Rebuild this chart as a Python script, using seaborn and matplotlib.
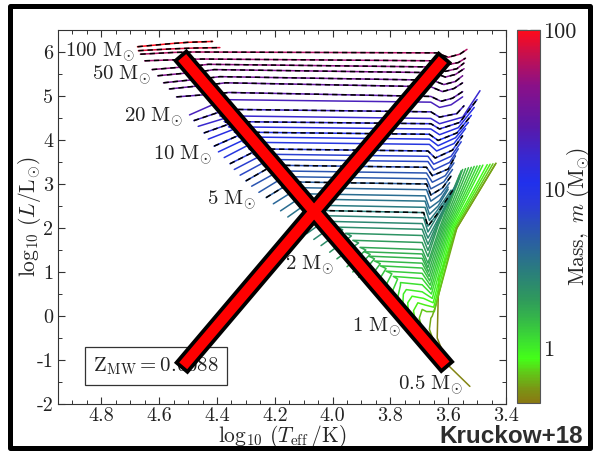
import matplotlib
matplotlib.use("Agg")
import numpy as np
import pandas as pd
import matplotlib.pyplot as plt
import seaborn as sns
from matplotlib.colors import LinearSegmentedColormap, LogNorm
from matplotlib.cm import ScalarMappable
from matplotlib.ticker import MultipleLocator, FuncFormatter, LogLocator, NullFormatter, FixedLocator
from matplotlib.lines import Line2D
from matplotlib.patches import Rectangle

# ---------------------------------------------------------------- data
# initial masses of the evolutionary tracks (Msun)
masses = [100, 80, 60, 52, 46, 40, 34, 29, 25, 20, 18, 16, 14, 12.5, 11, 10, 9, 8,
          7.3, 6.6, 6.0, 5.5, 5.0, 4.6, 4.2, 3.8, 3.5, 3.2, 3.0, 2.8, 2.6, 2.4, 2.2,
          2.0, 1.8, 1.7, 1.6, 1.5, 1.4, 1.3, 1.2, 1.1, 1.0, 0.9, 0.8, 0.7, 0.6, 0.5]

# zero-age main sequence
zams_logT = [4.675, 4.672, 4.665, 4.65, 4.625, 4.605, 4.585, 4.565, 4.54, 4.495, 4.48, 4.465,
             4.445, 4.43, 4.41, 4.395, 4.375, 4.355, 4.34, 4.32, 4.30, 4.28, 4.255, 4.23,
             4.205, 4.18, 4.155, 4.13, 4.11, 4.09, 4.065, 4.04, 4.01, 3.985, 3.95, 3.93,
             3.91, 3.885, 3.86, 3.835, 3.81, 3.785, 3.76, 3.735, 3.705, 3.675, 3.63, 3.525]
zams_logL = [6.12, 6.03, 5.95, 5.80, 5.60, 5.46, 5.30, 5.16, 4.98, 4.57, 4.44, 4.31,
             4.16, 4.02, 3.86, 3.73, 3.60, 3.46, 3.33, 3.20, 3.07, 2.95, 2.81, 2.69,
             2.55, 2.39, 2.25, 2.10, 1.99, 1.87, 1.74, 1.60, 1.45, 1.30, 1.12, 1.00,
             0.88, 0.74, 0.60, 0.45, 0.30, 0.13, -0.05, -0.25, -0.45, -0.68, -0.95, -1.60]

# terminal-age main sequence
tams_logT = [4.56, 4.56, 4.55, 4.51, 4.48, 4.46, 4.44, 4.42, 4.40, 4.395, 4.385, 4.37,
             4.355, 4.34, 4.32, 4.305, 4.29, 4.27, 4.255, 4.235, 4.22, 4.20, 4.18, 4.155,
             4.13, 4.105, 4.08, 4.055, 4.035, 4.015, 3.99, 3.965, 3.935, 3.91, 3.885, 3.87,
             3.855, 3.835, 3.815, 3.795, 3.775, 3.765, 3.755, 3.74, 3.72, 3.70, 3.665, 3.60]
tams_logL = [6.19, 6.07, 5.99, 5.83, 5.68, 5.55, 5.40, 5.26, 5.05, 4.86, 4.65, 4.50,
             4.37, 4.25, 4.12, 4.01, 3.89, 3.74, 3.62, 3.50, 3.37, 3.24, 3.11, 2.99,
             2.86, 2.72, 2.60, 2.46, 2.34, 2.22, 2.09, 1.96, 1.82, 1.66, 1.50, 1.40,
             1.30, 1.19, 1.08, 0.96, 0.84, 0.70, 0.50, 0.30, 0.12, -0.05, -0.30, -1.12]

# main-sequence hook
hook_logT = [4.50, 4.48, 4.48, 4.45, 4.43, 4.41, 4.39, 4.37, 4.36, 4.41, 4.40, 4.39,
             4.375, 4.36, 4.34, 4.325, 4.31, 4.29, 4.275, 4.255, 4.24, 4.22, 4.20, 4.175,
             4.15, 4.125, 4.10, 4.075, 4.055, 4.035, 4.01, 3.985, 3.955, 3.93, 3.905, 3.89,
             3.875, 3.855, 3.835, 3.815, 3.79, 3.765, 3.745, 3.725, 3.705, 3.69, 3.66, 3.638]
hook_logL = [6.22, 6.09, 6.00, 5.84, 5.72, 5.60, 5.44, 5.30, 5.08, 4.92, 4.70, 4.55,
             4.42, 4.30, 4.18, 4.07, 3.95, 3.80, 3.68, 3.56, 3.43, 3.30, 3.17, 3.05,
             2.92, 2.78, 2.66, 2.52, 2.40, 2.28, 2.15, 2.02, 1.88, 1.72, 1.56, 1.46,
             1.36, 1.25, 1.14, 1.02, 0.90, 0.76, 0.60, 0.45, 0.30, 0.15, -0.05, -0.50]

# end of the Hertzsprung gap
gap_logT = [4.415, 4.39, 3.64, 3.65, 3.65, 3.65, 3.655, 3.66, 3.66, 3.66, 3.66, 3.66,
            3.66, 3.66, 3.665, 3.665, 3.665, 3.67, 3.67, 3.67, 3.675, 3.675, 3.675, 3.675,
            3.675, 3.68, 3.68, 3.68, 3.685, 3.685, 3.69, 3.69, 3.69, 3.69, 3.69, 3.69,
            3.69, 3.69, 3.69, 3.69, 3.69, 3.69, 3.69, 3.685, 3.68, 3.675, 3.655, 3.635]
gap_logL = [6.24, 6.10, 5.98, 5.80, 5.66, 5.53, 5.36, 5.21, 4.99, 4.86, 4.64, 4.49,
            4.37, 4.25, 4.13, 4.02, 3.90, 3.75, 3.63, 3.51, 3.38, 3.25, 3.12, 3.00,
            2.87, 2.73, 2.61, 2.47, 2.35, 2.23, 2.10, 1.97, 1.83, 1.67, 1.51, 1.41,
            1.31, 1.20, 1.09, 0.97, 0.85, 0.71, 0.55, 0.40, 0.25, 0.10, 0.00, 0.30]

# base of the giant branch
base_logT = [4.415, 4.39, 3.60, 3.61, 3.61, 3.61, 3.615, 3.62, 3.625, 3.63, 3.63, 3.63,
             3.63, 3.63, 3.635, 3.635, 3.64, 3.645, 3.65, 3.65, 3.655, 3.655, 3.66, 3.66,
             3.66, 3.665, 3.665, 3.665, 3.67, 3.67, 3.67, 3.67, 3.67, 3.67, 3.67, 3.67,
             3.668, 3.666, 3.664, 3.662, 3.66, 3.658, 3.655, 3.652, 3.65, 3.648, 3.645, 3.632]
base_logL = [6.24, 6.10, 5.88, 5.70, 5.56, 5.43, 5.26, 5.10, 4.88, 4.74, 4.52, 4.37,
             4.25, 4.12, 3.99, 3.87, 3.75, 3.59, 3.45, 3.32, 3.19, 3.04, 2.89, 2.75,
             2.61, 2.45, 2.31, 2.17, 2.04, 1.91, 1.77, 1.63, 1.49, 1.35, 1.20, 1.10,
             1.00, 0.90, 0.80, 0.70, 0.60, 0.50, 0.40, 0.30, 0.20, 0.10, 0.20, 0.85]

# middle of the giant branch
mid_logT = [4.415, 4.39, 3.56, 3.565, 3.57, 3.575, 3.575, 3.58, 3.585, 3.59, 3.57, 3.55,
            3.56, 3.565, 3.57, 3.575, 3.58, 3.585, 3.59, 3.595, 3.60, 3.61, 3.615, 3.62,
            3.625, 3.63, 3.635, 3.64, 3.64, 3.64, 3.635, 3.635, 3.635, 3.635, 3.63, 3.625,
            3.62, 3.615, 3.61, 3.605, 3.60, 3.595, 3.59, 3.585, 3.58, 3.575, 3.57, 3.57]
mid_logL = [6.24, 6.10, 5.95, 5.76, 5.62, 5.49, 5.33, 5.17, 4.95, 4.80, 4.60, 4.52,
            4.40, 4.28, 4.16, 4.05, 3.92, 3.77, 3.63, 3.49, 3.34, 3.19, 3.05, 2.91,
            2.77, 2.62, 2.50, 2.38, 2.30, 2.25, 2.20, 2.15, 2.10, 2.05, 2.00, 2.00,
            2.00, 2.00, 2.00, 2.00, 2.00, 2.00, 2.00, 2.00, 2.00, 2.00, 2.00, 2.00]

# end of the track
tip_logT = [4.415, 4.39, 3.535, 3.54, 3.545, 3.545, 3.55, 3.55, 3.55, 3.55, 3.545, 3.49,
            3.50, 3.51, 3.52, 3.53, 3.54, 3.55, 3.555, 3.565, 3.575, 3.58, 3.585, 3.59,
            3.595, 3.60, 3.60, 3.59, 3.58, 3.575, 3.57, 3.565, 3.56, 3.56, 3.555, 3.55,
            3.54, 3.53, 3.52, 3.51, 3.50, 3.49, 3.48, 3.465, 3.455, 3.445, 3.435, 3.435]
tip_logL = [6.24, 6.10, 6.06, 5.86, 5.75, 5.62, 5.46, 5.30, 5.10, 4.98, 4.78, 5.12,
            4.92, 4.74, 4.56, 4.40, 4.26, 4.10, 3.96, 3.80, 3.64, 3.48, 3.33, 3.18,
            3.03, 2.93, 2.88, 2.86, 2.90, 2.95, 3.00, 3.08, 3.15, 3.22, 3.30, 3.33,
            3.35, 3.37, 3.38, 3.40, 3.41, 3.42, 3.43, 3.44, 3.45, 3.46, 3.47, 3.47]

# tracks over-plotted with a dashed black line
dashed_masses = [100, 80, 60, 52, 46, 40, 34, 29, 25, 18, 14, 11, 8, 6.0, 4.6, 3.0]

# mass annotations next to the ZAMS
label_text = ["100", "50", "20", "10", "5", "2", "1", "0.5"]
label_logT = [4.685, 4.626, 4.516, 4.415, 4.264, 3.995, 3.764, 3.547]
label_logL = [6.00, 5.48, 4.52, 3.66, 2.64, 1.16, -0.25, -1.57]

metallicity = "0.0088"

# colour scale of the initial mass
cmap_masses = [0.45, 0.55, 0.7, 0.85, 1.1, 1.5, 2.0, 3.0, 5.0, 8.0, 11.0, 16.0, 25.0, 45.0, 70.0, 100.0]
cmap_colors = ["#8a7812", "#7a9615", "#5fcc18", "#44ff18", "#3ce030", "#35b848", "#2f9a5c",
               "#2a7e7c", "#2a5aa8", "#2a3ad8", "#2030ec", "#3828d0", "#5a18a8", "#8a1088",
               "#c5104f", "#ff0a1a"]
mass_min, mass_max = 0.45, 100.0

# ---------------------------------------------------------------- tables
stages = [(zams_logT, zams_logL), (tams_logT, tams_logL), (hook_logT, hook_logL),
          (gap_logT, gap_logL), (base_logT, base_logL), (mid_logT, mid_logL),
          (tip_logT, tip_logL)]
rows = []
for i, m in enumerate(masses):
    for k, (tt, ll) in enumerate(stages):
        rows.append({"track": i, "mass": m, "step": k, "logT": tt[i], "logL": ll[i]})
tracks = pd.DataFrame(rows)
dashed = tracks[tracks["mass"].isin(dashed_masses)]

norm = LogNorm(vmin=mass_min, vmax=mass_max)
span = np.log10(mass_max / mass_min)
nodes = [(np.log10(m / mass_min) / span, c) for m, c in zip(cmap_masses, cmap_colors)]
cmap = LinearSegmentedColormap.from_list("mass", nodes)

# ---------------------------------------------------------------- style
sns.set_theme(style="ticks")
plt.rcParams.update({
    "font.family": ["cmr10"],
    "mathtext.fontset": "cm",
    "axes.unicode_minus": False,
    "axes.formatter.use_mathtext": True,
    "axes.edgecolor": "#333333",
    "axes.linewidth": 0.8,
    "xtick.color": "#333333",
    "ytick.color": "#333333",
    "xtick.labelcolor": "#222222",
    "ytick.labelcolor": "#222222",
})

W, H = 594, 453
fig = plt.figure(figsize=(W / 100, H / 100), dpi=100, facecolor="white")
ax = fig.add_axes([58 / W, 49 / H, 448 / W, 374 / H])

sns.lineplot(data=tracks, x="logT", y="logL", hue="mass", units="track",
             estimator=None, sort=False, palette=cmap, hue_norm=norm,
             legend=False, lw=1.1, ax=ax)
sns.lineplot(data=dashed, x="logT", y="logL", units="track", estimator=None,
             sort=False, color="black", lw=1.1, linestyle=(0, (3.5, 2.5)),
             legend=False, ax=ax)

ax.set_xlim(4.95, 3.4)
ax.set_ylim(-2, 6.5)
ax.xaxis.set_major_locator(MultipleLocator(0.2))
ax.xaxis.set_minor_locator(MultipleLocator(0.05))
ax.yaxis.set_major_locator(MultipleLocator(1))
ax.yaxis.set_minor_locator(MultipleLocator(0.5))
ax.xaxis.set_major_formatter(FuncFormatter(lambda v, p: f"{v:.1f}"))
ax.yaxis.set_major_formatter(FuncFormatter(lambda v, p: f"{int(round(v))}"))
ax.tick_params(which="both", direction="in", top=True, right=True,
               labelfontfamily="cmr10")
ax.tick_params(which="major", length=5, width=0.8, labelsize=14.5)
ax.tick_params(axis="x", which="major", pad=2)
ax.tick_params(axis="y", which="major", pad=3.5)
ax.tick_params(which="minor", length=3, width=0.7)

ax.set_xlabel(r"$\log_{10}\,(T_{\mathrm{eff}}\,/\mathrm{K})$", fontsize=15.5, labelpad=-1)
ax.set_ylabel(r"$\log_{10}\,(L/\mathrm{L}_{\odot})$", fontsize=15.5, labelpad=-5)

for txt, lt, ll in zip(label_text, label_logT, label_logL):
    ax.text(lt, ll, rf"${txt}\ \mathrm{{M}}_{{\odot}}$", ha="right", va="center",
            fontsize=15, color="#222222")

ax.text(0.219, 0.102, rf"$\mathrm{{Z}}_{{\mathrm{{MW}}}} = {metallicity}$",
        transform=ax.transAxes, ha="center", va="center", fontsize=15,
        color="#222222",
        bbox=dict(boxstyle="square,pad=0.4", fc="white", ec="#333333", lw=0.9))

# colour bar
cax = fig.add_axes([517 / W, 50 / H, 23 / W, 373 / H])
sm = ScalarMappable(norm=norm, cmap=cmap)
cb = fig.colorbar(sm, cax=cax)
cb.outline.set_linewidth(0.8)
cb.outline.set_edgecolor("#555555")
cax.yaxis.set_major_locator(FixedLocator([1, 10, 100]))
cax.yaxis.set_minor_locator(LogLocator(base=10, subs=np.arange(2, 10)))
cax.yaxis.set_major_formatter(FuncFormatter(lambda v, p: f"{v:g}"))
cax.yaxis.set_minor_formatter(NullFormatter())
cax.tick_params(which="both", direction="in", left=True, right=True,
                labelfontfamily="cmr10", color="#222222")
cax.tick_params(which="major", length=7, width=0.9, labelsize=16, pad=2)
cax.tick_params(which="minor", length=4, width=0.8)
cb.set_label(r"$\mathrm{Mass,}\ m\ (\mathrm{M}_{\odot})$", fontsize=15.5)
cax.yaxis.label.set_verticalalignment("center")
cax.yaxis.label.set_horizontalalignment("center")
cax.yaxis.set_label_coords(62 / 23, 0.5)


def fig_xy(px, py):
    return px / W, 1 - py / H


# crossed-out overlay
cross = [((185.6, 61.5), (442.1, 361.0)), ((186.6, 361.8), (439.5, 63.6))]
for color, width in (("black", 18), ("#ff0000", 10.5)):
    for (a, b) in cross:
        x0, y0 = fig_xy(*a)
        x1, y1 = fig_xy(*b)
        fig.add_artist(Line2D([x0, x1], [y0, y1], transform=fig.transFigure,
                              color=color, lw=width * 0.72,
                              solid_capstyle="projecting", zorder=10))

# outer frame
fx, fy = fig_xy(9.5, 447.5)
fig.add_artist(Rectangle((fx, fy), 580 / W, 442 / H, transform=fig.transFigure,
                         fill=False, ec="black", lw=5 * 0.72, joinstyle="round",
                         zorder=11))

fx, fy = fig_xy(583, 443)
fig.text(fx, fy, "Kruckow+18", ha="right", va="baseline", fontsize=17.5,
         fontweight="bold", family="Liberation Sans", color="#2e2e2e", zorder=12)

fig.savefig("out.png", dpi=100, facecolor="white")
